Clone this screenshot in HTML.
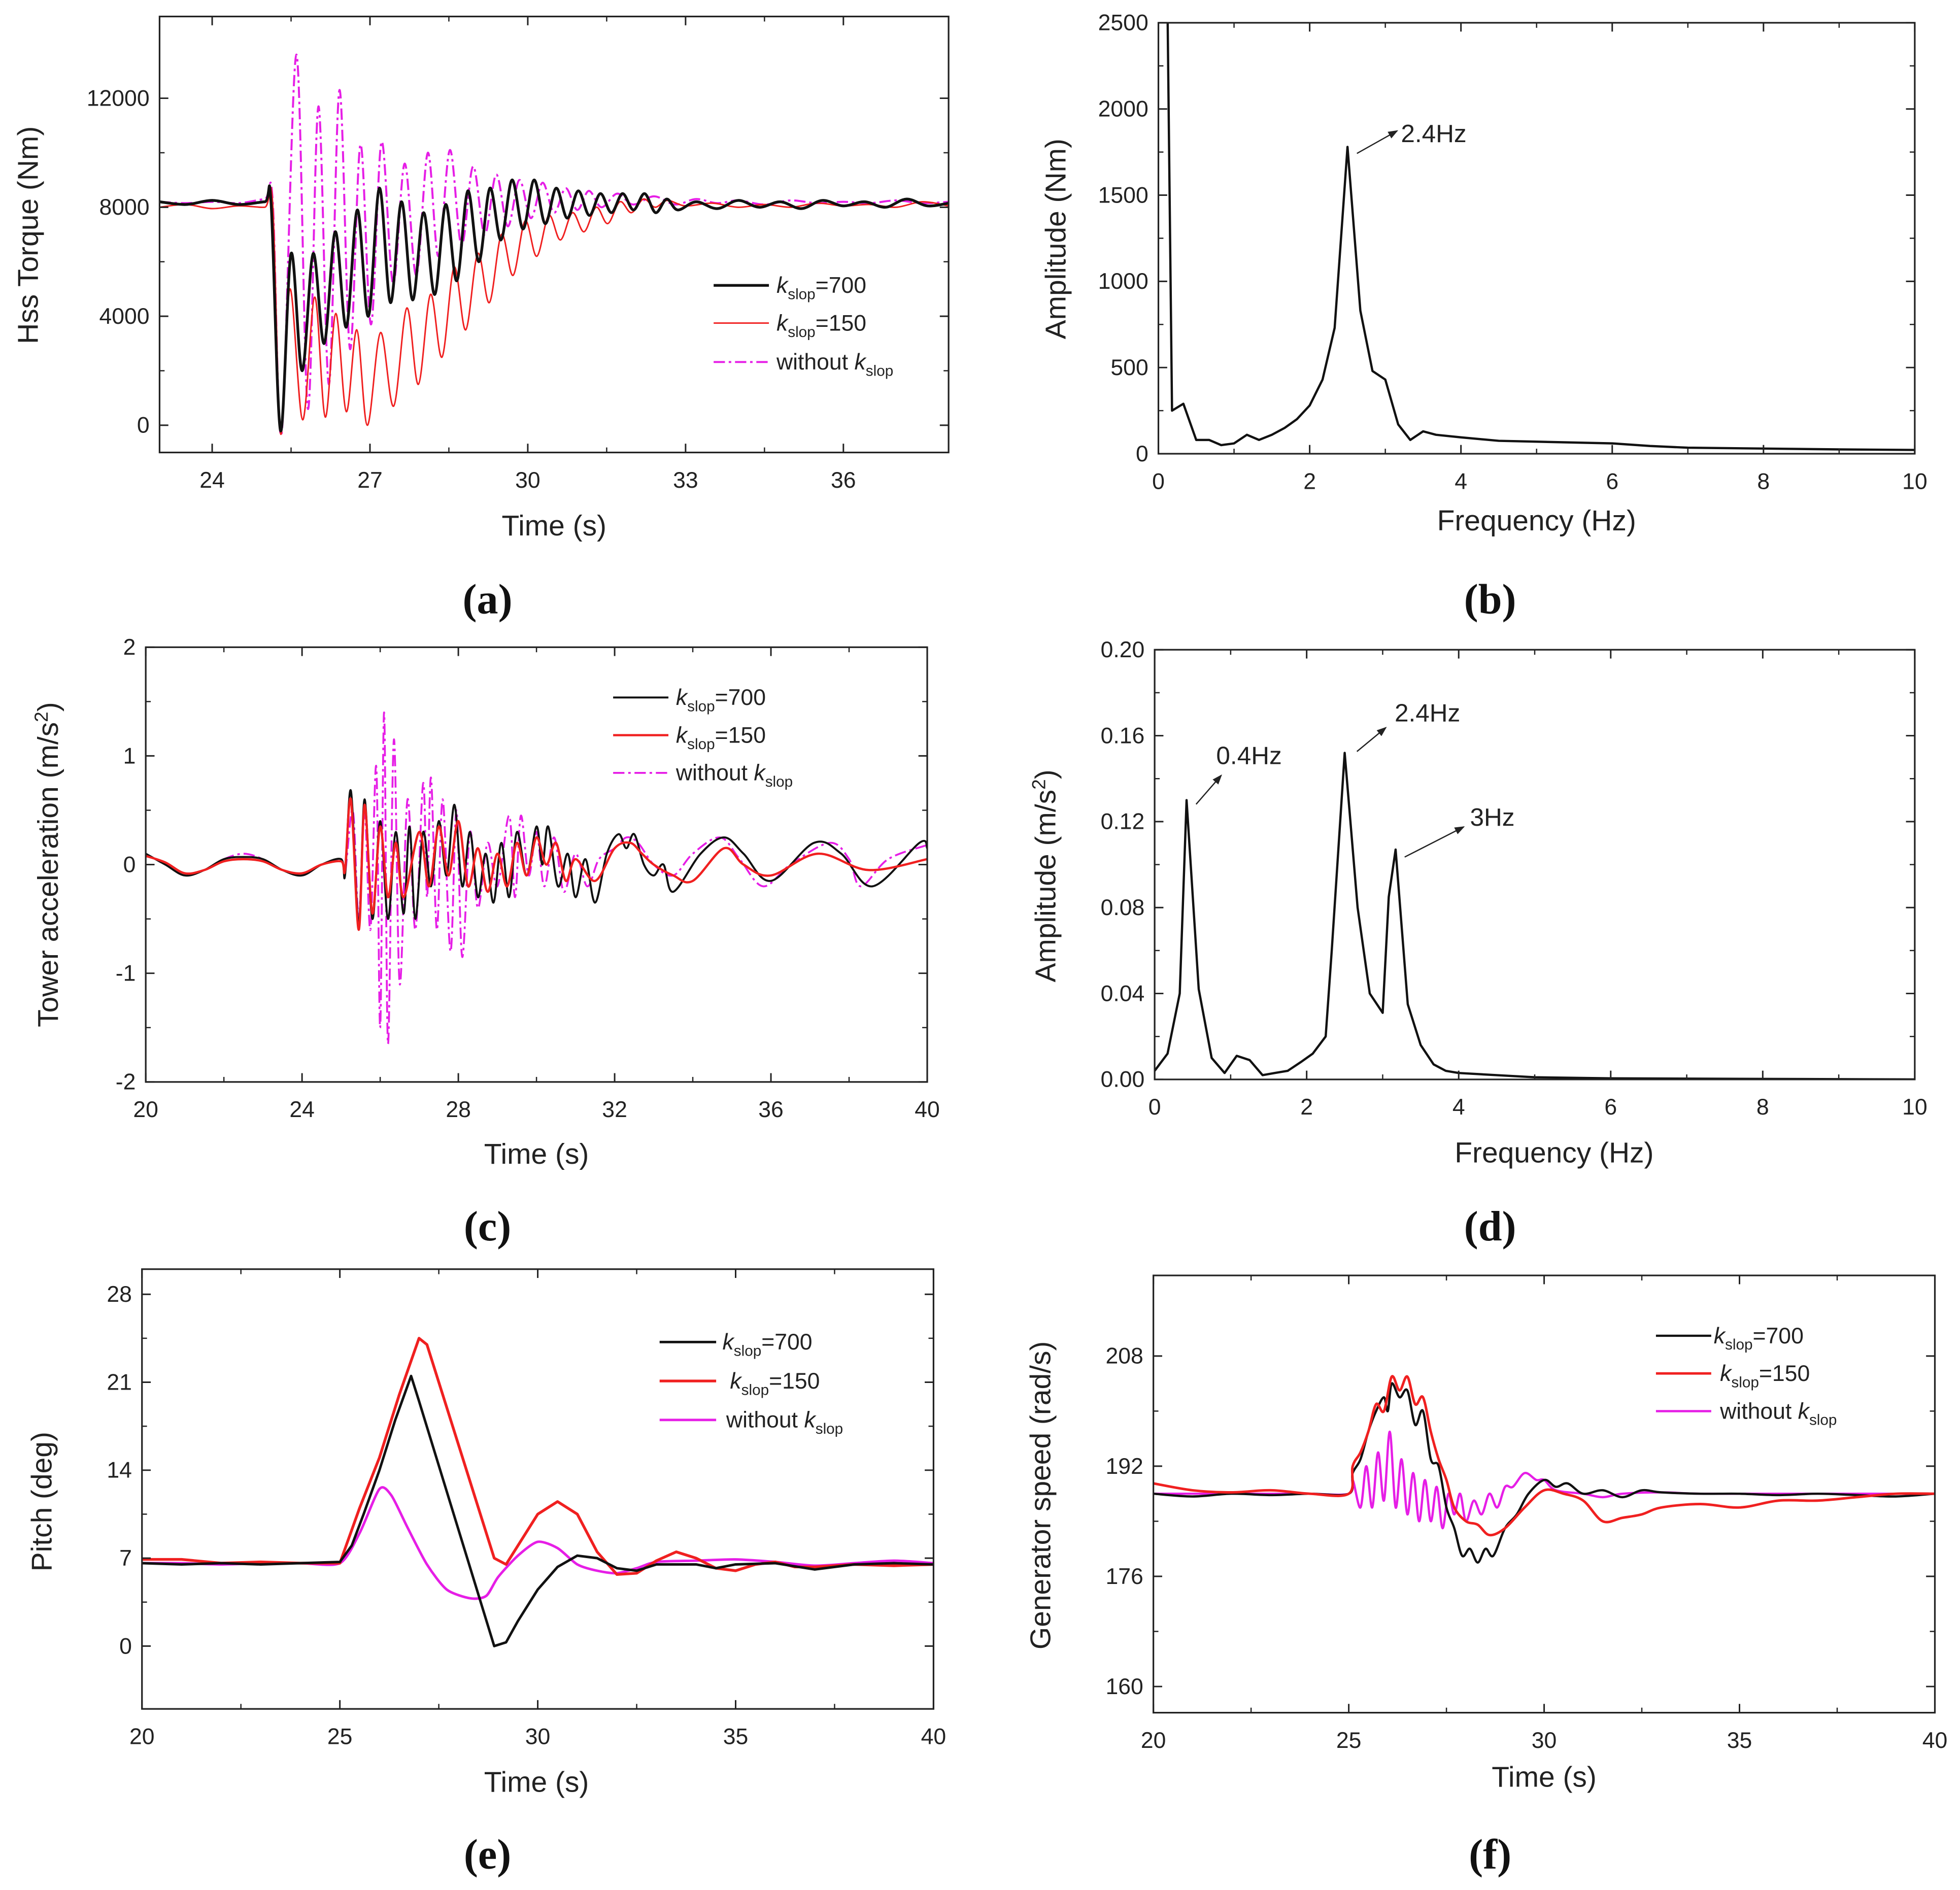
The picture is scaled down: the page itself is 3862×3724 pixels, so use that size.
<!DOCTYPE html>
<html><head><meta charset="utf-8"><style>
html,body{margin:0;padding:0;background:#fff;}
svg{display:block;}
text{font-family:"Liberation Sans",Arial,sans-serif;fill:#222;}
.pl{font-family:"Liberation Serif",serif;font-weight:bold;font-size:34px;fill:#111;}
</style></head><body>
<svg id="fig" width="3862" height="3724" viewBox="0 0 1560 1504" xmlns="http://www.w3.org/2000/svg">
<defs>
<marker id="arr" markerWidth="8" markerHeight="8" refX="7" refY="4" orient="auto"><path d="M0,1 L8,4 L0,7 Z" fill="#222"/></marker>
</defs>
</svg>
<script>
// ---------- Panel (a) data ----------
const aBlackT=[23,23.5,24,24.5,25,25.12,25.3,25.5,25.71,25.92,26.13,26.34,26.55,26.76,26.97,27.18,27.39,27.6,27.81,28.02,28.23,28.44,28.65,28.86,29.07,29.28,29.49,29.7,29.91,30.12,30.33,30.54,30.75,30.96,31.17,31.38,31.59,31.8,32.01,32.22,32.43,32.64,32.85,33.2,33.6,34,34.4,34.8,35.2,35.6,36,36.4,36.8,37.2,37.6,38];
const aBlackV=[8200,8100,8250,8100,8200,8150,-200,6300,2000,6300,3000,7100,3600,7900,4000,8700,4500,8200,4600,7800,4800,8100,5300,8600,6000,8700,6800,9000,7200,9000,7400,8700,7600,8600,7700,8500,7800,8500,7900,8500,7800,8300,7900,8200,7950,8250,8000,8200,7950,8250,8050,8200,8000,8300,8050,8150];
const aRedT=[23,23.5,24,24.5,25,25.15,25.3,25.48,25.72,25.95,26.15,26.35,26.55,26.75,26.95,27.2,27.45,27.7,27.92,28.15,28.37,28.6,28.82,29.05,29.27,29.5,29.72,29.95,30.17,30.4,30.62,30.85,31.07,31.3,31.52,31.75,31.97,32.2,32.42,32.65,33,33.5,34,34.5,35,35.5,36,36.5,37,37.5,38];
const aRedV=[8000,8100,7950,8050,8000,8150,-300,5000,200,4700,300,4100,500,3500,0,3400,700,4300,1500,4800,2500,5800,3500,6300,4500,7000,5500,7500,6200,7700,6800,7800,7100,8000,7400,8200,7800,8300,8000,8250,8050,8150,8000,8100,8000,8150,8050,8100,8000,8200,8050];
const aMagT=[23,23.5,24,24.5,25,25.15,25.32,25.6,25.82,26.02,26.22,26.42,26.62,26.82,27.02,27.22,27.44,27.66,27.88,28.1,28.3,28.52,28.74,28.96,29.18,29.4,29.62,29.84,30.06,30.28,30.5,30.72,30.94,31.16,31.4,31.7,32,32.4,32.8,33.2,33.6,34,34.5,35,35.5,36,36.5,37,37.5,38];
const aMagV=[8200,8150,8200,8150,8300,8250,-300,13600,600,11700,1500,12300,2800,10300,3700,10400,5200,9600,5500,10000,6200,10100,6600,9500,7000,9200,7300,9000,7600,8900,7800,8700,7900,8600,8000,8500,8100,8400,8100,8300,8150,8250,8100,8250,8150,8200,8150,8250,8150,8200];
// ---------- Panel (b) data ----------
const bFreq=[0.12,0.18,0.33,0.5,0.67,0.83,1.0,1.17,1.33,1.5,1.67,1.83,2.0,2.17,2.33,2.5,2.67,2.83,3.0,3.17,3.33,3.5,3.67,4,4.5,5,6,6.5,7,8,9,10];
const bAmp=[2600,250,290,80,80,50,60,110,80,110,150,200,280,430,730,1780,830,480,430,170,80,130,110,95,75,70,60,45,35,30,25,22];
// ---------- Panel (c) data ----------
const cBlackT=[20,20.5,21,21.5,22,22.5,23,23.5,24,24.5,25,25.1,25.25,25.45,25.6,25.8,26.0,26.2,26.4,26.6,26.75,26.9,27.1,27.3,27.5,27.7,27.9,28.1,28.3,28.5,28.7,28.9,29.1,29.3,29.5,29.75,30,30.15,30.3,30.55,30.8,31,31.25,31.5,31.8,32.1,32.3,32.5,32.75,33,33.25,33.5,34.2,34.8,35.3,36,37.1,37.8,38.6,39.8,40];
const cBlackV=[0.1,0,-0.1,-0.05,0.05,0.07,0.05,-0.05,-0.1,0,0.05,-0.1,0.68,-0.55,0.6,-0.5,0.4,-0.5,0.3,-0.45,0.35,-0.5,0.3,-0.2,0.4,-0.1,0.55,-0.2,0.3,-0.3,0.1,-0.35,0.2,-0.3,0.3,-0.1,0.35,0,0.35,-0.2,0.1,-0.3,0.05,-0.35,0.1,0.28,0.15,0.28,0,-0.1,0,-0.25,0.1,0.25,0.1,-0.15,0.2,0.1,-0.2,0.2,0.15];
const cRedT=[20,20.5,21,21.5,22,22.5,23,23.5,24,24.5,25,25.1,25.25,25.45,25.6,25.8,26.0,26.2,26.4,26.6,27,27.25,27.5,27.75,28,28.25,28.5,28.75,29,29.25,29.5,29.75,30,30.25,30.5,30.75,31,31.5,32,32.4,32.7,33,33.5,34,34.8,35.3,36,37.2,38.5,40];
const cRedV=[0.08,0.02,-0.08,-0.05,0.03,0.05,0.03,-0.05,-0.08,0,0.03,-0.05,0.6,-0.6,0.55,-0.45,0.35,-0.3,0.2,-0.3,0.3,-0.2,0.35,-0.1,0.4,-0.2,0.15,-0.25,0.1,-0.2,0.2,-0.1,0.25,0,0.2,-0.15,0.05,-0.15,0.15,0.2,0.1,0,-0.1,-0.15,0.15,0,-0.1,0.1,-0.05,0.05];
const cMagT=[20,20.5,21,21.5,22,22.5,23,23.5,24,24.5,25,25.1,25.3,25.45,25.6,25.75,25.9,26.0,26.1,26.2,26.35,26.5,26.7,26.9,27.1,27.2,27.3,27.45,27.6,27.8,27.95,28.1,28.3,28.5,28.75,29,29.3,29.45,29.6,29.8,30,30.2,30.45,30.7,31,31.3,31.6,32,32.3,32.6,33,33.5,34,34.7,35.2,35.8,36.5,37.5,38,38.3,39,40];
const cMagV=[0.1,0,-0.08,-0.05,0.05,0.1,0.05,-0.05,-0.1,0,0.05,-0.08,0.5,-0.5,0.5,-0.6,0.9,-1.5,1.4,-1.65,1.15,-1.1,0.6,-0.6,0.75,-0.3,0.8,-0.6,0.6,-0.8,0.5,-0.85,0.3,-0.4,0.2,-0.2,0.45,-0.3,0.45,-0.1,0.3,-0.2,0.25,-0.25,0.1,-0.2,0.05,0.15,0.25,0.2,0,-0.1,0.1,0.25,0.05,-0.2,0,0.2,0.05,-0.2,0.05,0.18];
// ---------- Panel (d) data ----------
const dFreq=[0,0.17,0.33,0.42,0.58,0.75,0.92,1.08,1.25,1.42,1.58,1.75,1.92,2.08,2.25,2.33,2.5,2.67,2.83,3.0,3.08,3.17,3.33,3.5,3.67,3.83,4,4.5,5,6,10];
const dAmp=[0.004,0.012,0.04,0.13,0.042,0.01,0.003,0.011,0.009,0.002,0.003,0.004,0.008,0.012,0.02,0.06,0.152,0.08,0.04,0.031,0.085,0.107,0.035,0.016,0.007,0.004,0.003,0.002,0.001,0.0005,0];
// ---------- Panel (e) data ----------
const eBlackT=[20,21,22,23,24,25,25.3,25.6,26,26.4,26.8,27,28.9,29.2,29.5,30,30.5,31,31.5,32,32.5,33,34,34.5,35,36,37,38,39,40];
const eBlackV=[6.6,6.5,6.6,6.5,6.6,6.7,8,10.5,14,18,21.5,19.5,0,0.3,2,4.5,6.3,7.2,7,6.2,6,6.5,6.5,6.2,6.5,6.6,6.1,6.5,6.6,6.5];
const eRedT=[20,21,22,23,24,25,25.5,26,26.5,27,27.2,28.9,29.2,29.6,30,30.5,31,31.5,32,32.5,33,33.5,34,34.5,35,35.5,36,36.5,37,38,39,40];
const eRedV=[6.9,6.9,6.6,6.7,6.6,6.6,11,15,20,24.5,24,7,6.5,8.5,10.5,11.5,10.5,7.5,5.7,5.8,6.8,7.5,7,6.2,6,6.5,6.7,6.3,6.3,6.5,6.4,6.5];
const eMagT=[20,21,22,23,24,25,25.5,26,26.3,26.7,27.2,27.7,28.3,28.7,29,29.5,30,30.5,31,31.5,32,32.5,33,34,35,36,37,38,39,40];
const eMagV=[6.6,6.6,6.5,6.6,6.6,6.6,9,12.5,12,9.5,6.5,4.5,3.8,4,5.5,7.2,8.3,7.8,6.5,6,5.8,6.2,6.7,6.8,6.9,6.7,6.4,6.6,6.8,6.6];
// ---------- Panel (f) data ----------
const fBlackT=[20,21,22,23,24,25,25.1,25.3,25.5,25.7,25.9,26.0,26.1,26.3,26.5,26.7,26.9,27.1,27.3,27.5,27.7,27.9,28.1,28.3,28.5,28.7,29,29.3,29.6,30,30.3,30.6,31,31.5,32,32.5,33,34,35,36,37,38,39,40];
const fBlackV=[188,187.6,188,187.8,188,188,191,193,197,200,202,200,204,202,203,198,200,193,192,186,183,179,180,178,180,179,183,185,188,190,189,189.5,188,188.5,187.5,188.5,188.2,188,188,187.8,188,187.8,187.6,188];
const fRedT=[20,21,22,23,24,25,25.1,25.3,25.5,25.7,25.9,26.1,26.3,26.5,26.7,26.9,27.1,27.3,27.5,27.7,28,28.3,28.6,29,29.5,30,30.5,31,31.5,32,32.5,33,34,35,36,37,38,39,40];
const fRedV=[189.5,188.5,188.2,188.5,188,188,192,194,197,201,200,205,203,205,201,202,197,193,190,186,184,183.5,182,183,186,188.5,188,187,184,184.5,185,186,186.5,186,187,187,187.5,188,188];
const fMagT=[20,21,22,23,24,25,25.1,25.3,25.45,25.6,25.75,25.9,26.05,26.2,26.35,26.5,26.65,26.8,26.95,27.1,27.25,27.4,27.55,27.7,27.85,28,28.2,28.4,28.6,28.8,29,29.2,29.5,29.8,30,30.3,31,31.5,32,33,34,36,38,40];
const fMagV=[188,188,188,188,188,188,190,186,192,186,194,187,197,186,193,185,191,184,190,184,189,183,188,185,188,184,187,185,188,186,189,189,191,190,190,188.5,188,187.5,188,188.2,188,188,188,188];

const NS='http://www.w3.org/2000/svg';
const svg=document.getElementById('fig');
function mk(tag,attrs,parent){const e=document.createElementNS(NS,tag);for(const k in attrs)e.setAttribute(k,attrs[k]);(parent||svg).appendChild(e);return e;}
function txt(s,x,y,size,anchor,parent,rot){const t=mk('text',{x:x,y:y,'font-size':size,'text-anchor':anchor||'middle'},parent);if(rot)t.setAttribute('transform','rotate(-90 '+x+' '+y+')');t.innerHTML=s;return t;}
function smoothPath(pts,ten){const k=ten||6;let d='M'+pts[0][0].toFixed(2)+','+pts[0][1].toFixed(2);for(let i=0;i<pts.length-1;i++){const p0=pts[Math.max(0,i-1)],p1=pts[i],p2=pts[i+1],p3=pts[Math.min(pts.length-1,i+2)];const c1=[p1[0]+(p2[0]-p0[0])/k,p1[1]+(p2[1]-p0[1])/k],c2=[p2[0]-(p3[0]-p1[0])/k,p2[1]-(p3[1]-p1[1])/k];d+=' C'+c1[0].toFixed(2)+','+c1[1].toFixed(2)+' '+c2[0].toFixed(2)+','+c2[1].toFixed(2)+' '+p2[0].toFixed(2)+','+p2[1].toFixed(2);}return d;}
function linePath(pts){return 'M'+pts.map(p=>p[0].toFixed(2)+','+p[1].toFixed(2)).join(' L');}

function panel(cfg){
  const g=mk('g',{});
  
  
  const {x0,x1,y0,y1,xmin,xmax,ymin,ymax}=cfg;
  const X=v=>x0+(v-xmin)/(xmax-xmin)*(x1-x0);
  const Y=v=>y1-(v-ymin)/(ymax-ymin)*(y1-y0);
  const cid='clip-'+cfg.name;
  const cp=mk('clipPath',{id:cid},g);mk('rect',{x:x0,y:y0,width:x1-x0,height:y1-y0},cp);
  cfg.series.forEach(s=>{
    const pts=s.t.map((t,i)=>[X(t),Y(s.v[i])]);
    const p=mk('path',{d:s.smooth?smoothPath(pts,s.ten):linePath(pts),fill:'none',stroke:s.color,'stroke-width':s.w,'clip-path':'url(#'+cid+')','stroke-linejoin':'round'},g);
    if(s.dash)p.setAttribute('stroke-dasharray',s.dash);
    
    
  });
  const fr=mk('rect',{x:x0,y:y0,width:x1-x0,height:y1-y0,fill:'none',stroke:'#222','stroke-width':1.3},g);
  
  
  cfg.xticks.forEach((v,i)=>{
    const x=X(v);
    mk('line',{x1:x,y1:y1,x2:x,y2:y1-7,stroke:'#222','stroke-width':1.2},g);
    mk('line',{x1:x,y1:y0,x2:x,y2:y0+7,stroke:'#222','stroke-width':1.2},g);
    const t=txt(cfg.xlabels[i],x,y1+28,18,'middle',g);
    
    
    if(i<cfg.xticks.length-1){const xm=X((v+cfg.xticks[i+1])/2);mk('line',{x1:xm,y1:y1,x2:xm,y2:y1-4,stroke:'#222','stroke-width':1},g);mk('line',{x1:xm,y1:y0,x2:xm,y2:y0+4,stroke:'#222','stroke-width':1},g);}
  });
  cfg.yticks.forEach((v,i)=>{
    const y=Y(v);
    mk('line',{x1:x0,y1:y,x2:x0+7,y2:y,stroke:'#222','stroke-width':1.2},g);
    mk('line',{x1:x1,y1:y,x2:x1-7,y2:y,stroke:'#222','stroke-width':1.2},g);
    const t=txt(cfg.ylabels[i],x0-8,y+6,18,'end',g);
    
    
    if(i<cfg.yticks.length-1){const ym=Y((v+cfg.yticks[i+1])/2);mk('line',{x1:x0,y1:ym,x2:x0+4,y2:ym,stroke:'#222','stroke-width':1},g);mk('line',{x1:x1,y1:ym,x2:x1-4,y2:ym,stroke:'#222','stroke-width':1},g);}
  });
  const xt=txt(cfg.xtitle,cfg.xtPos[0],cfg.xtPos[1],23,'middle',g);
  
  
  const yt=txt(cfg.ytitle,cfg.ytPos[0],cfg.ytPos[1],23,'middle',g,true);
  
  
  const pl=mk('text',{x:cfg.pl[0],y:cfg.pl[1],'text-anchor':'middle','class':'pl'},g);pl.textContent=cfg.plabel;
  
  
  (cfg.legend||[]).forEach(L=>{
    const lg=mk('g',{},g);
    
    
    const ln=mk('line',{x1:L.lx[0],y1:L.y,x2:L.lx[1],y2:L.y,stroke:L.color,'stroke-width':L.w},lg);
    if(L.dash)ln.setAttribute('stroke-dasharray',L.dash);
    txt(L.text,L.tx,L.y+6,18,'start',lg);
  });
  (cfg.ann||[]).forEach(A=>{
    const ag=mk('g',{},g);
    
    
    mk('line',{x1:A.a[0],y1:A.a[1],x2:A.a[2],y2:A.a[3],stroke:'#222','stroke-width':1,'marker-end':'url(#arr)'},ag);
    txt(A.text,A.tp[0],A.tp[1],20,'start',ag);
  });
}
const K7='<tspan font-style="italic">k</tspan><tspan font-size="12" dy="5">slop</tspan><tspan dy="-5">=700</tspan>';
const K1='<tspan font-style="italic">k</tspan><tspan font-size="12" dy="5">slop</tspan><tspan dy="-5">=150</tspan>';
const KW=sp=>'without'+sp+'<tspan font-style="italic">k</tspan><tspan font-size="12" dy="5">slop</tspan>';

panel({name:'panel-a-hss-torque',x0:127,x1:755,y0:13,y1:360,xmin:23,xmax:38,ymin:-1000,ymax:15000,
 xticks:[24,27,30,33,36],xlabels:['24','27','30','33','36'],yticks:[0,4000,8000,12000],ylabels:['0','4000','8000','12000'],
 xtitle:'Time (s)',xtPos:[441,426],ytitle:'Hss Torque (Nm)',ytPos:[30,187],plabel:'(a)',pl:[388,488],
 series:[{name:'series-without-kslop',t:aMagT,v:aMagV,color:'#e61ee6',w:1.6,dash:'9,3,2,3',smooth:true},
         {name:'series-kslop-150',t:aRedT,v:aRedV,color:'#f02020',w:1.2,smooth:true},
         {name:'series-kslop-700',t:aBlackT,v:aBlackV,color:'#111',w:2.2,smooth:true}],
 legend:[{lx:[568,612],y:227,color:'#111',w:2.2,text:K7,tx:618},{lx:[568,612],y:257,color:'#f02020',w:1.2,text:K1,tx:618},{lx:[568,612],y:288,color:'#e61ee6',w:1.6,dash:'9,3,2,3',text:KW(' '),tx:618}]});

panel({name:'panel-b-torque-spectrum',x0:922,x1:1524,y0:18,y1:361,xmin:0,xmax:10,ymin:0,ymax:2500,
 xticks:[0,2,4,6,8,10],xlabels:['0','2','4','6','8','10'],yticks:[0,500,1000,1500,2000,2500],ylabels:['0','500','1000','1500','2000','2500'],
 xtitle:'Frequency (Hz)',xtPos:[1223,422],ytitle:'Amplitude (Nm)',ytPos:[848,190],plabel:'(b)',pl:[1186,488],
 series:[{name:'torque-spectrum-line',t:bFreq,v:bAmp,color:'#111',w:1.8,smooth:false}],
 ann:[{a:[1080,122,1112,104],text:'2.4Hz',tp:[1115,113]}]});

panel({name:'panel-c-tower-acceleration',x0:116,x1:738,y0:515,y1:861,xmin:20,xmax:40,ymin:-2,ymax:2,
 xticks:[20,24,28,32,36,40],xlabels:['20','24','28','32','36','40'],yticks:[-2,-1,0,1,2],ylabels:['-2','-1','0','1','2'],
 xtitle:'Time (s)',xtPos:[427,926],ytitle:'Tower acceleration (m/s<tspan font-size="15" dy="-8">2</tspan><tspan dy="8">)</tspan>',ytPos:[46,688],plabel:'(c)',pl:[388,987],
 series:[{name:'series-without-kslop',t:cMagT,v:cMagV,color:'#e61ee6',w:1.5,dash:'9,3,2,3',smooth:true},
         {name:'series-kslop-700',t:cBlackT,v:cBlackV,color:'#111',w:1.6,smooth:true},
         {name:'series-kslop-150',t:cRedT,v:cRedV,color:'#f02020',w:1.8,smooth:true}],
 legend:[{lx:[488,532],y:555,color:'#111',w:1.6,text:K7,tx:538},{lx:[488,532],y:585,color:'#f02020',w:1.8,text:K1,tx:538},{lx:[488,532],y:615,color:'#e61ee6',w:1.5,dash:'9,3,2,3',text:KW('  '),tx:538}]});

panel({name:'panel-d-acceleration-spectrum',x0:919,x1:1524,y0:517,y1:859,xmin:0,xmax:10,ymin:0,ymax:0.2,
 xticks:[0,2,4,6,8,10],xlabels:['0','2','4','6','8','10'],yticks:[0,0.04,0.08,0.12,0.16,0.2],ylabels:['0.00','0.04','0.08','0.12','0.16','0.20'],
 xtitle:'Frequency (Hz)',xtPos:[1237,925],ytitle:'Amplitude (m/s<tspan font-size="15" dy="-8">2</tspan><tspan dy="8">)</tspan>',ytPos:[840,697],plabel:'(d)',pl:[1186,987],
 series:[{name:'acceleration-spectrum-line',t:dFreq,v:dAmp,color:'#111',w:1.8,smooth:false}],
 ann:[{a:[952,640,972,617],text:'0.4Hz',tp:[968,608]},{a:[1080,598,1103,579],text:'2.4Hz',tp:[1110,574]},{a:[1118,682,1165,658],text:'3Hz',tp:[1170,657]}]});

panel({name:'panel-e-pitch',x0:113,x1:743,y0:1010,y1:1360,xmin:20,xmax:40,ymin:-5,ymax:30,
 xticks:[20,25,30,35,40],xlabels:['20','25','30','35','40'],yticks:[0,7,14,21,28],ylabels:['0','7','14','21','28'],
 xtitle:'Time (s)',xtPos:[427,1426],ytitle:'Pitch (deg)',ytPos:[41,1195],plabel:'(e)',pl:[388,1487],
 series:[{name:'series-without-kslop',t:eMagT,v:eMagV,color:'#e61ee6',w:2,smooth:true,ten:8},
         {name:'series-kslop-150',t:eRedT,v:eRedV,color:'#f02020',w:2.2,smooth:false},
         {name:'series-kslop-700',t:eBlackT,v:eBlackV,color:'#111',w:2,smooth:false}],
 legend:[{lx:[525,570],y:1068,color:'#111',w:2,text:K7,tx:575},{lx:[525,570],y:1099,color:'#f02020',w:2.2,text:K1,tx:581},{lx:[525,570],y:1130,color:'#e61ee6',w:2,text:KW('  '),tx:578}]});

panel({name:'panel-f-generator-speed',x0:918,x1:1540,y0:1015,y1:1363,xmin:20,xmax:40,ymin:156.2,ymax:219.7,
 xticks:[20,25,30,35,40],xlabels:['20','25','30','35','40'],yticks:[160,176,192,208],ylabels:['160','176','192','208'],
 xtitle:'Time (s)',xtPos:[1229,1422],ytitle:'Generator speed (rad/s)',ytPos:[836,1190],plabel:'(f)',pl:[1186,1487],
 series:[{name:'series-without-kslop',t:fMagT,v:fMagV,color:'#e61ee6',w:1.8,smooth:true},
         {name:'series-kslop-700',t:fBlackT,v:fBlackV,color:'#111',w:1.8,smooth:true},
         {name:'series-kslop-150',t:fRedT,v:fRedV,color:'#f02020',w:2,smooth:true}],
 legend:[{lx:[1318,1362],y:1063,color:'#111',w:1.8,text:K7,tx:1364},{lx:[1318,1362],y:1093,color:'#f02020',w:2,text:K1,tx:1369},{lx:[1318,1362],y:1123,color:'#e61ee6',w:1.8,text:KW(' '),tx:1369}]});
</script>
</body></html>
